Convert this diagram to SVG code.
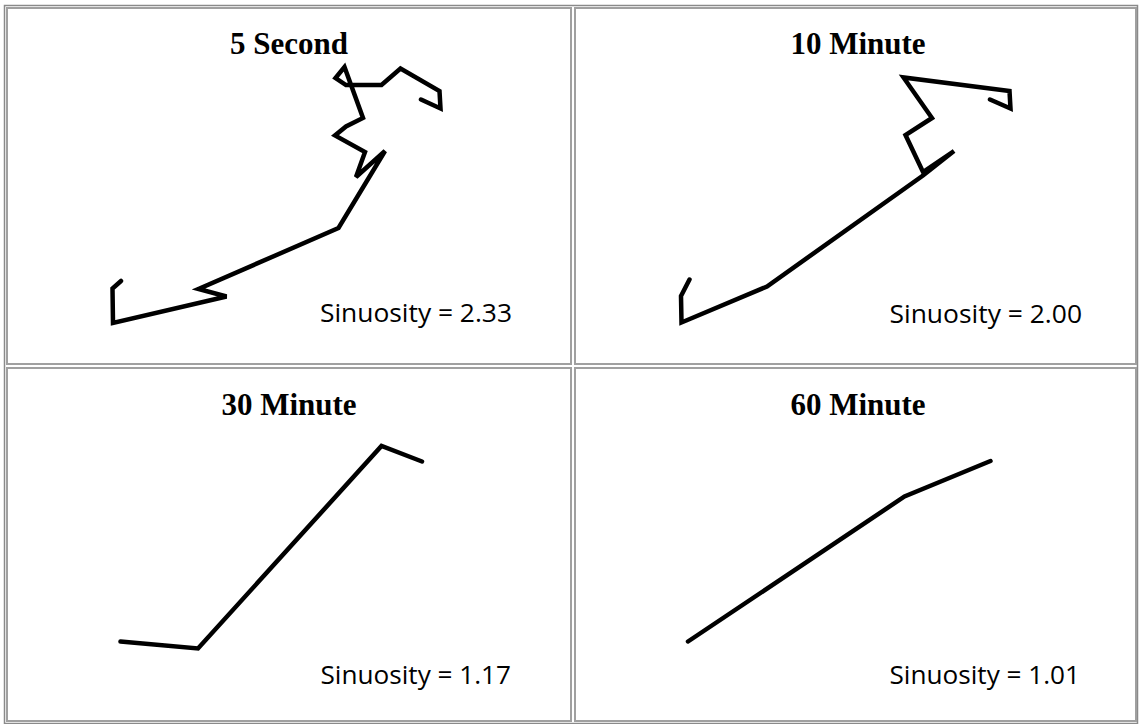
<svg xmlns="http://www.w3.org/2000/svg" width="1139" height="724" viewBox="0 0 1139 724">
<style>
.frame{fill:none;stroke:#a0a0a0;stroke-width:2}
.outer{fill:none;stroke:#8a8a8a;stroke-width:1.5}
.title{font-family:"Liberation Serif","Times New Roman",serif;font-weight:bold;font-size:31px;fill:#000;text-anchor:middle}
.sin{font-family:"Open Sans","Noto Sans",sans-serif;font-size:25px;fill:#000}
.track{fill:none;stroke:#000;stroke-width:4.5;stroke-linejoin:miter;stroke-linecap:round}
</style>
<rect width="1139" height="724" fill="#fff"/>
<rect class="outer" x="4.5" y="5.5" width="1133" height="718"/>
<g id="panel-5s">
<rect class="frame" x="7" y="8" width="564" height="356"/>
<text class="title" x="289" y="54">5 Second</text>
<path class="track" d="M121,281 L112.5,288.5 L113,323 L226.5,296.5 L198.5,289 L338.5,228 L385,151 L356,177 L365,152 L335,135.5 L346,126.5 L363,118 L344.5,67 L335.5,78 L346,85 L381.5,85 L400.5,68.5 L439.5,91 L440.5,108.5 L421,99.5"/>
<text class="sin" x="320" y="322" textLength="192" lengthAdjust="spacingAndGlyphs">Sinuosity = 2.33</text>
</g>
<g id="panel-10m">
<rect class="frame" x="575" y="8" width="561" height="356"/>
<text class="title" x="858" y="54">10 Minute</text>
<path class="track" d="M689.5,279.5 L681,296 L681.5,322.5 L767,286.5 L923,175.5 L954,151 L923,172 L905.5,135 L932,118 L903.5,77.5 L1009.5,91 L1010.5,108.5 L990,99.5"/>
<text class="sin" x="889.5" y="322.5" textLength="192.5" lengthAdjust="spacingAndGlyphs">Sinuosity = 2.00</text>
</g>
<g id="panel-30m">
<rect class="frame" x="7" y="368" width="564" height="353"/>
<text class="title" x="289" y="415">30 Minute</text>
<path class="track" d="M120.5,641.5 L198,648.5 L381.5,446 L422,461.5"/>
<text class="sin" x="320.5" y="684" textLength="190.5" lengthAdjust="spacingAndGlyphs">Sinuosity = 1.17</text>
</g>
<g id="panel-60m">
<rect class="frame" x="575" y="368" width="561" height="353"/>
<text class="title" x="858" y="415">60 Minute</text>
<path class="track" d="M688,641.5 L904.5,496.5 L990.5,461"/>
<text class="sin" x="889.5" y="684" textLength="190.5" lengthAdjust="spacingAndGlyphs">Sinuosity = 1.01</text>
</g>
<g id="connectors"></g>
</svg>
